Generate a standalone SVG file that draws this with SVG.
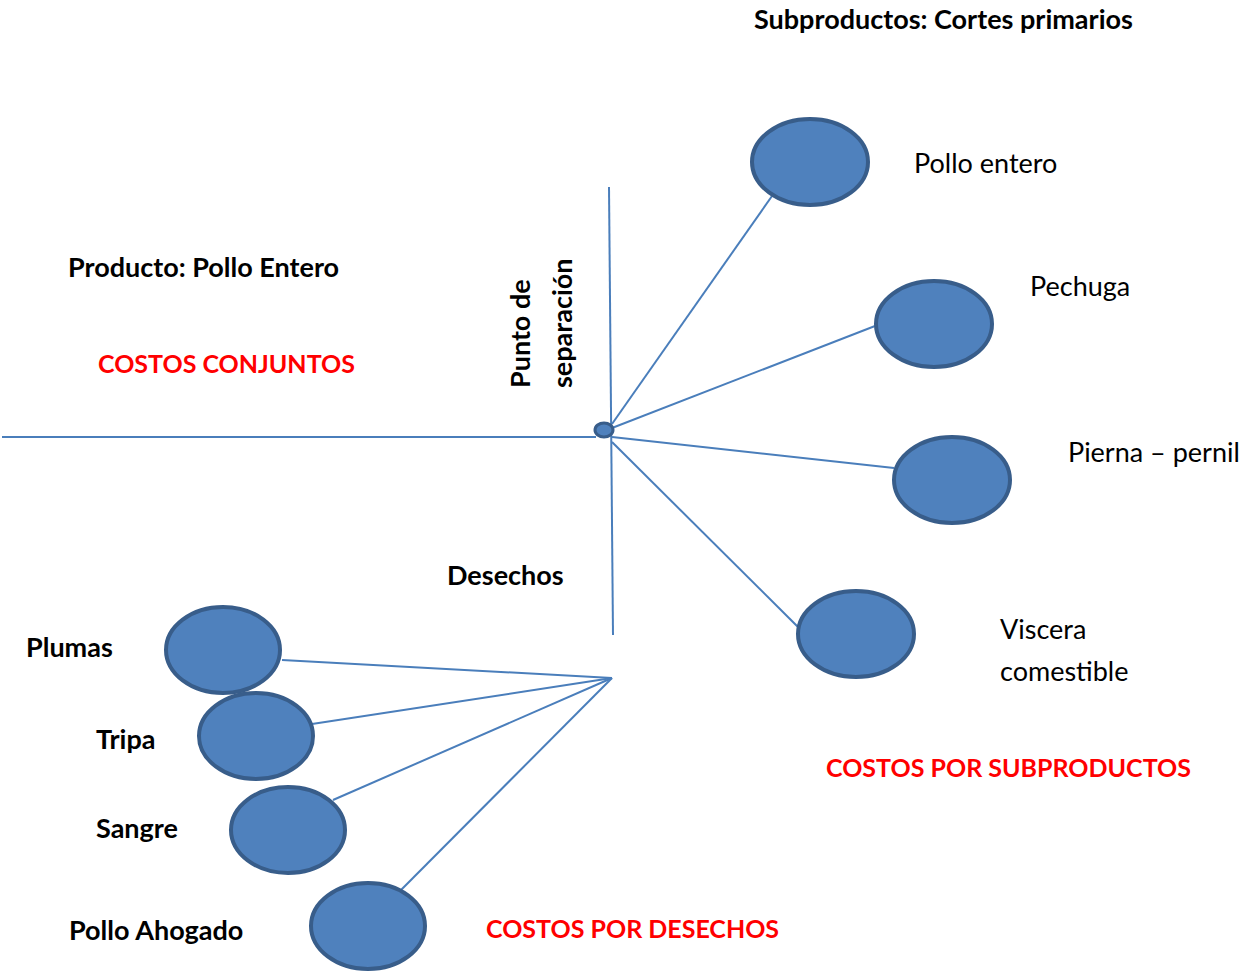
<svg xmlns="http://www.w3.org/2000/svg" width="1241" height="972" viewBox="0 0 1241 972">
<style>
.n{fill:#4f81bd;stroke:#385d8a;stroke-width:4}
.c line{stroke:#4a7ebb;stroke-width:2}
text{font-family:Lato,"Liberation Sans",sans-serif;font-size:27px;fill:#000}
.b{font-weight:bold}
.r{font-weight:bold;fill:#ff0000;font-size:25px}
</style>
<rect width="1241" height="972" fill="#fff"/>
<g class="c" id="connectors">
<line x1="2" y1="437" x2="596" y2="437"/>
<line x1="609" y1="187" x2="613" y2="635"/>
<line x1="612" y1="424" x2="772" y2="196"/>
<line x1="612" y1="428" x2="875" y2="326"/>
<line x1="612" y1="437" x2="894" y2="468"/>
<line x1="612" y1="442" x2="798" y2="627"/>
<line x1="612" y1="678" x2="282" y2="660"/>
<line x1="612" y1="678" x2="312" y2="724"/>
<line x1="612" y1="678" x2="333" y2="800"/>
<line x1="612" y1="678" x2="401" y2="890"/>
</g>
<g id="punto"><ellipse cx="604" cy="430" rx="9" ry="7" fill="#4f81bd" stroke="#385d8a" stroke-width="3"/></g>
<g id="pollo-entero"><ellipse class="n" cx="810" cy="162" rx="58" ry="43"/><text x="914" y="173">Pollo entero</text></g>
<g id="pechuga"><ellipse class="n" cx="934" cy="324" rx="58" ry="43"/><text x="1030" y="296">Pechuga</text></g>
<g id="pierna"><ellipse class="n" cx="952" cy="480" rx="58" ry="43"/><text x="1068" y="462">Pierna – pernil</text></g>
<g id="viscera"><ellipse class="n" cx="856" cy="634" rx="58" ry="43"/><text x="1000" y="639">Viscera</text><text x="1000" y="681">comestible</text></g>
<g id="plumas"><ellipse class="n" cx="223" cy="650" rx="57" ry="43"/><text class="b" x="26" y="657">Plumas</text></g>
<g id="tripa"><ellipse class="n" cx="256" cy="736" rx="57" ry="43"/><text class="b" x="96" y="749">Tripa</text></g>
<g id="sangre"><ellipse class="n" cx="288" cy="830" rx="57" ry="43"/><text class="b" x="96" y="838">Sangre</text></g>
<g id="pollo-ahogado"><ellipse class="n" cx="368" cy="926" rx="57" ry="43"/><text class="b" x="69" y="940">Pollo Ahogado</text></g>
<g id="labels">
<text class="b" x="754" y="29">Subproductos: Cortes primarios</text>
<text class="b" x="68" y="277">Producto: Pollo Entero</text>
<text class="r" x="98" y="373">COSTOS CONJUNTOS</text>
<text class="b" transform="translate(530,388) rotate(-90)">Punto de</text>
<text class="b" transform="translate(572,388) rotate(-90)">separación</text>
<text class="b" x="447" y="585">Desechos</text>
<text class="r" x="826" y="777">COSTOS POR SUBPRODUCTOS</text>
<text class="r" x="486" y="938">COSTOS POR DESECHOS</text>
</g>
</svg>
